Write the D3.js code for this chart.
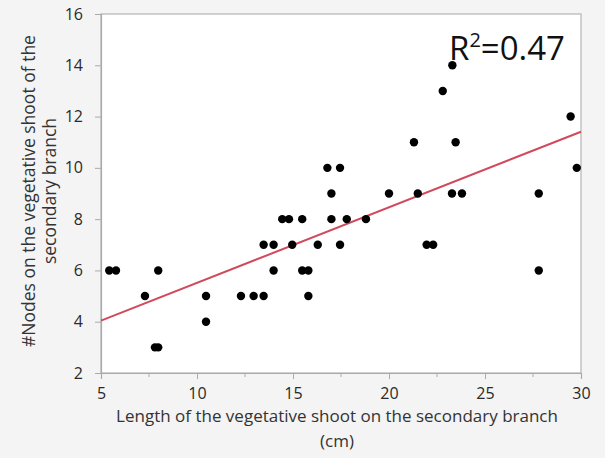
<!DOCTYPE html>
<html>
<head>
<meta charset="utf-8">
<script src="https://cdn.jsdelivr.net/npm/d3@7"></script>
<style>
  html, body { margin: 0; padding: 0; background: #f4f4f4; }
  svg { display: block; }
</style>
</head>
<body>
<svg id="chart" width="605" height="458"></svg>
<script>
// ---- data ----
const shootLength = [5.43, 5.78, 7.29, 7.98, 7.81, 7.98, 10.47, 10.47, 12.29, 12.95,
  13.47, 13.47, 13.99, 13.99, 14.44, 14.79, 14.96, 15.48, 15.48, 15.8,
  15.8, 16.29, 17.0, 17.0, 17.45, 16.79, 17.45, 17.8, 18.8, 20.0,
  21.5, 21.96, 22.3, 23.28, 23.8, 27.8, 27.8, 23.3, 22.8, 29.46,
  21.3, 23.47, 29.78];
const nodeCount = [6, 6, 5, 6, 3, 3, 5, 4, 5, 5,
  5, 7, 7, 6, 8, 8, 7, 8, 6, 6,
  5, 7, 9, 8, 7, 10, 10, 8, 8, 9,
  9, 7, 7, 9, 9, 9, 6, 14, 13, 12,
  11, 11, 10];
const fitX = [5, 30];
const fitY = [4.04, 11.41];
const xTicks = [5, 10, 15, 20, 25, 30];
const xMinorTicks = [7.5, 12.5, 17.5, 22.5, 27.5];
const yTicks = [2, 4, 6, 8, 10, 12, 14, 16];
const xTitleLines = ["Length of the vegetative shoot on the secondary branch", "(cm)"];
const yTitleLines = ["#Nodes on the vegetative shoot of the", "secondary branch"];
const rSquaredLabel = "0.47";

// ---- layout ----
const svg = d3.select("#chart");
const plotLeft = 101, plotRight = 581, plotTop = 14, plotBottom = 373;
const x = d3.scaleLinear().domain([5, 30]).range([plotLeft, plotRight]);
const y = d3.scaleLinear().domain([2, 16]).range([plotBottom, plotTop]);
const font = "'Open Sans', 'Noto Sans', sans-serif";
const textColor = "#333";

// plot background
svg.append("rect").attr("x", plotLeft).attr("y", plotTop)
  .attr("width", plotRight - plotLeft).attr("height", plotBottom - plotTop)
  .attr("fill", "#ffffff").attr("stroke", "#b4b4b4").attr("stroke-width", 1.2);

// x axis
const xAxis = svg.append("g").attr("transform", `translate(0,${plotBottom})`)
  .call(d3.axisBottom(x).tickValues(xTicks).tickSize(6).tickPadding(9).tickFormat(d3.format("d")));
xAxis.append("g").selectAll("line").data(xMinorTicks).join("line")
  .attr("x1", d => x(d)).attr("x2", d => x(d)).attr("y1", 0).attr("y2", 4)
  .attr("stroke", "#aaa");
// y axis
const yAxis = svg.append("g").attr("transform", `translate(${plotLeft},0)`)
  .call(d3.axisLeft(y).tickValues(yTicks).tickSize(6).tickPadding(12).tickFormat(d3.format("d")));

[xAxis, yAxis].forEach(g => {
  g.select(".domain").attr("stroke", "#aaa").attr("stroke-width", 1.2);
  g.selectAll(".tick line").attr("stroke", "#aaa");
  g.selectAll(".tick text").attr("fill", "#2a2a2a").attr("font-family", font).attr("font-size", 16);
});

// regression line
svg.append("path")
  .datum(fitX.map((d, i) => [d, fitY[i]]))
  .attr("d", d3.line().x(d => x(d[0])).y(d => y(d[1])))
  .attr("stroke", "#d04a5c").attr("stroke-width", 2).attr("fill", "none");

// points
svg.append("g").selectAll("circle")
  .data(shootLength.map((d, i) => [d, nodeCount[i]]))
  .join("circle")
  .attr("cx", d => x(d[0])).attr("cy", d => y(d[1])).attr("r", 4.2)
  .attr("fill", "#000");

// x title
svg.append("g").selectAll("text").data(xTitleLines).join("text")
  .attr("x", 337).attr("y", (d, i) => 422 + i * 25)
  .attr("text-anchor", "middle")
  .attr("font-family", font).attr("font-size", 17).attr("fill", textColor)
  .text(d => d);

// y title
svg.append("g").attr("transform", "translate(0,191) rotate(-90)")
  .selectAll("text").data(yTitleLines).join("text")
  .attr("x", 0).attr("y", (d, i) => 35 + i * 21)
  .attr("text-anchor", "middle")
  .attr("font-family", font).attr("font-size", 17.5).attr("fill", textColor)
  .text(d => d);

// R^2 label
const r2 = svg.append("text").attr("x", 449).attr("y", 60)
  .attr("font-family", font)
  .attr("font-size", 33).attr("fill", "#111");
r2.append("tspan").text("R");
r2.append("tspan").attr("font-size", 20).attr("dy", -13).text("2");
r2.append("tspan").attr("dy", 13).text("=" + rSquaredLabel);
</script>
</body>
</html>
